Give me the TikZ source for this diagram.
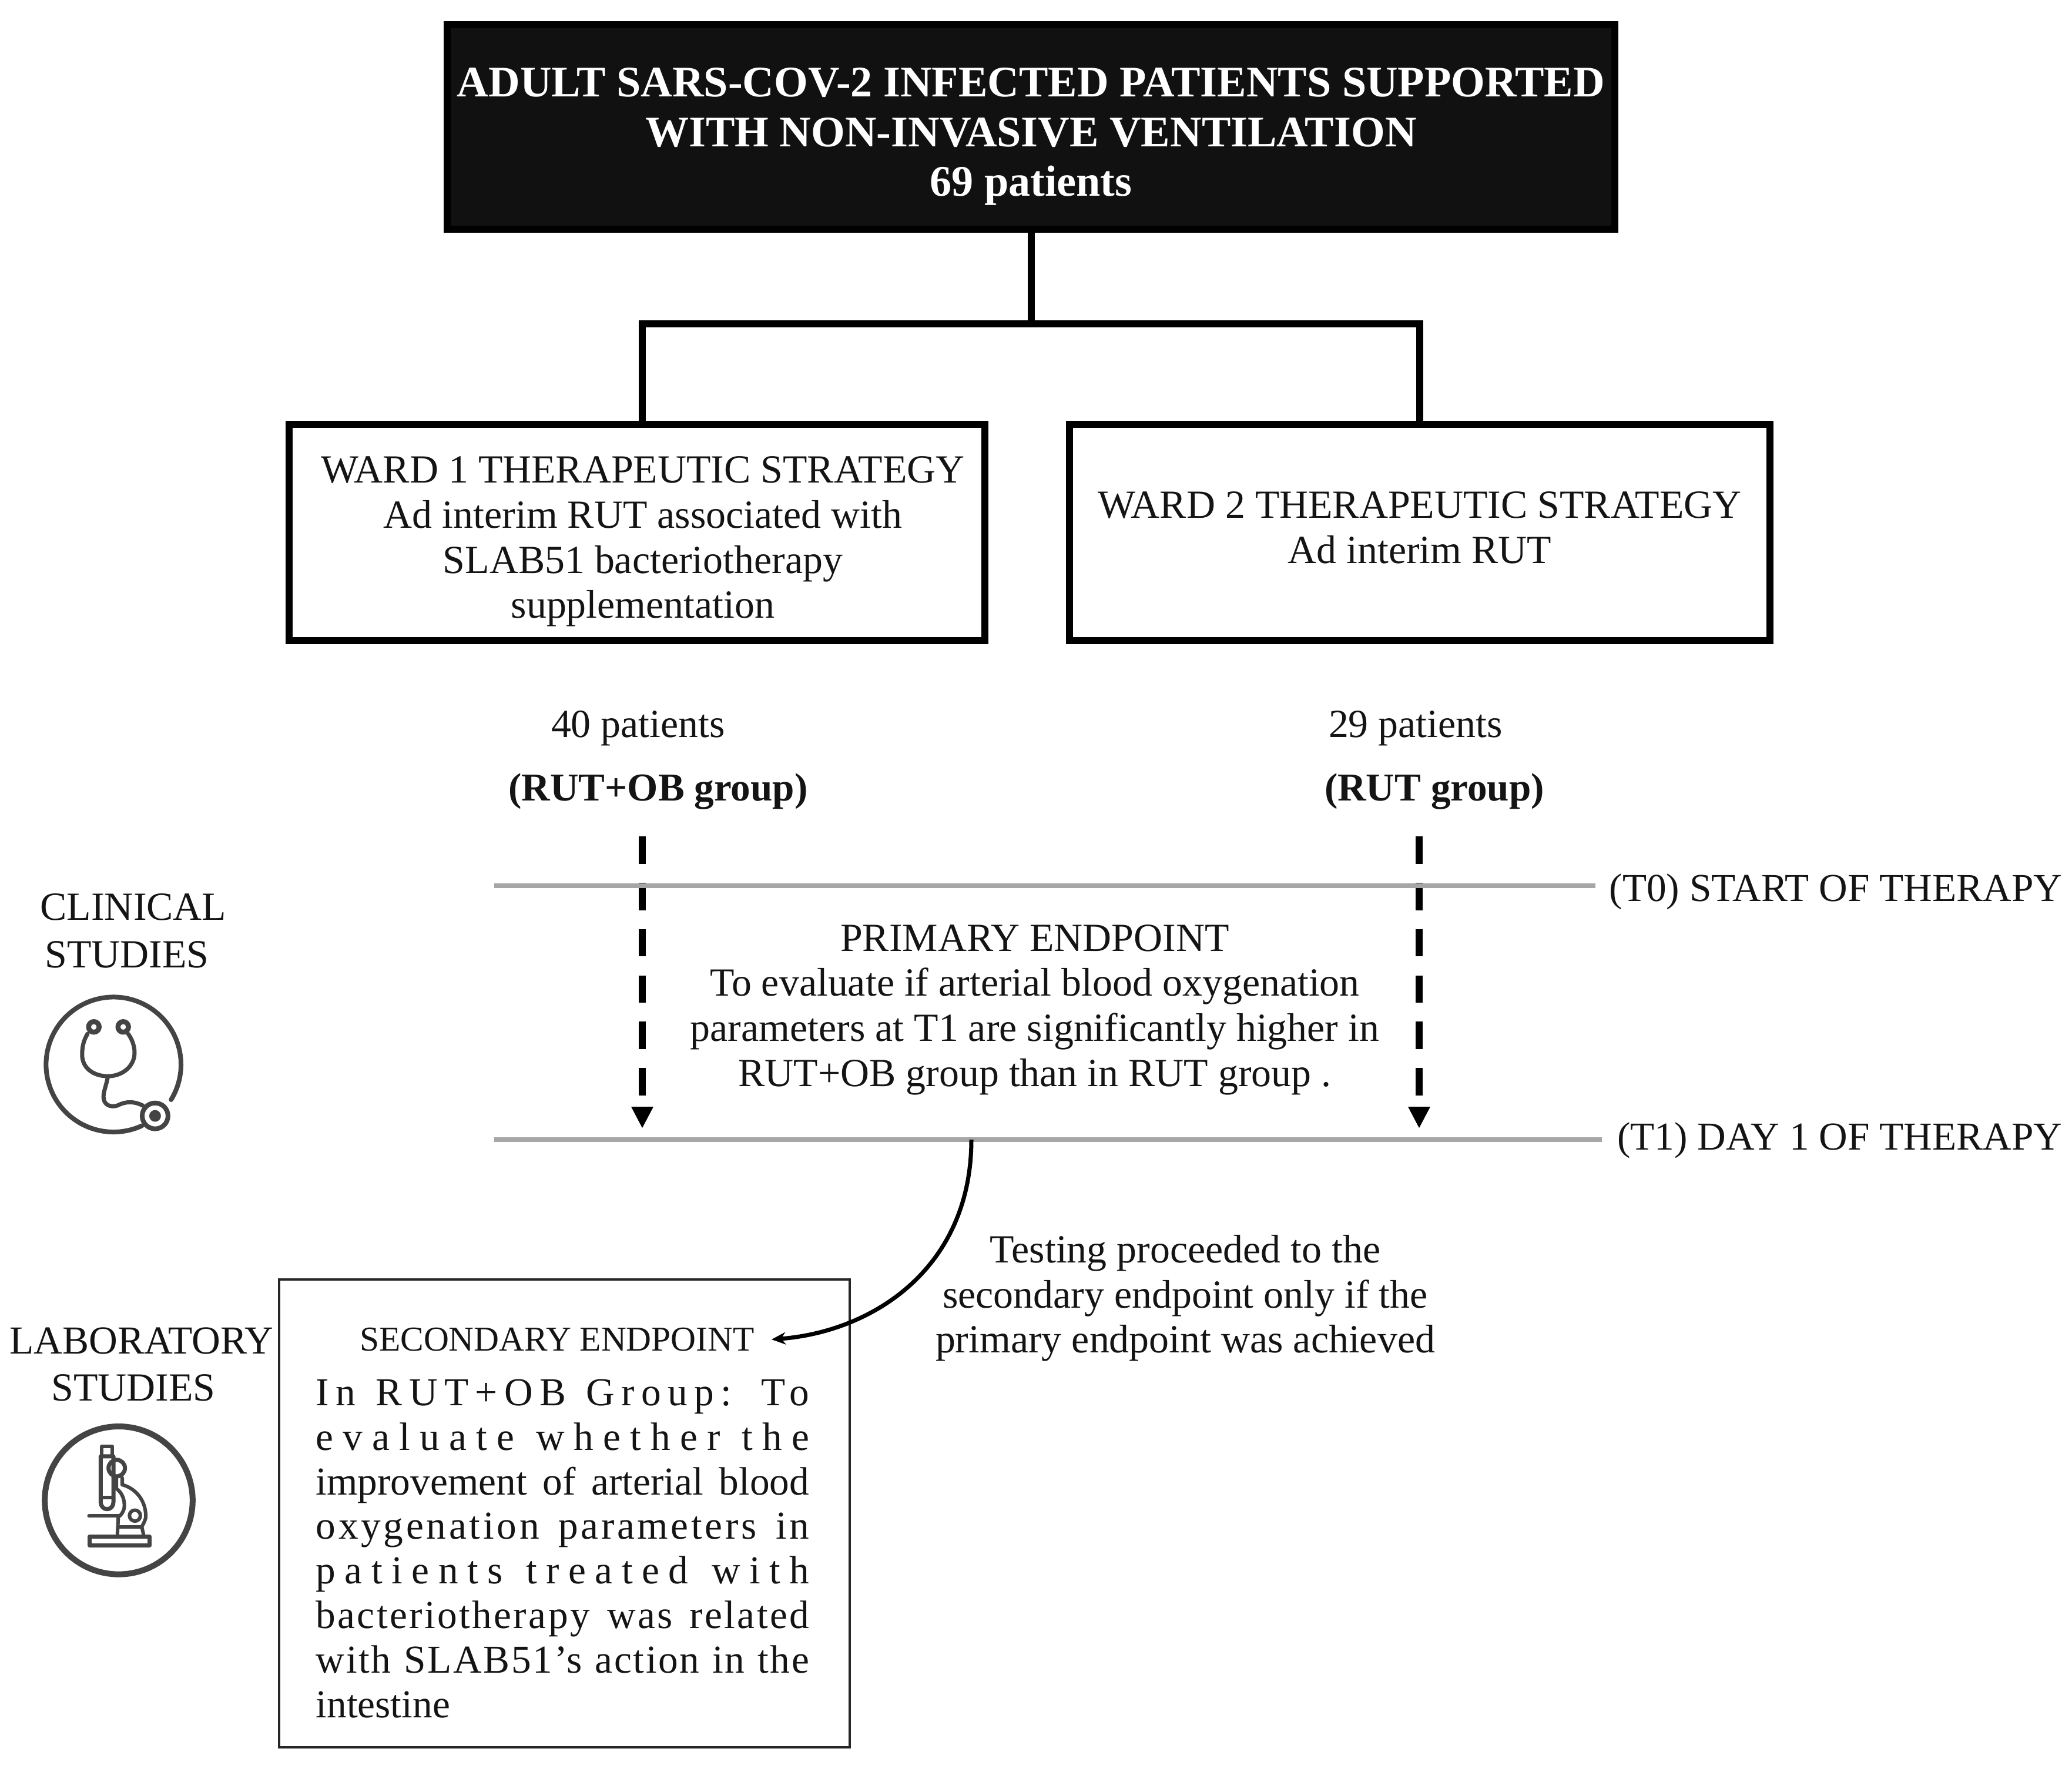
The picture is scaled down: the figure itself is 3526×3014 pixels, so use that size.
\documentclass[tikz,border=0pt]{standalone}
\usepackage{fontspec}
\setmainfont{Liberation Serif}
\usetikzlibrary{arrows.meta}
\newcommand{\fsz}[2]{\fontsize{#1}{#2}\selectfont}
\newcommand{\shifted}[2]{\raisebox{#1}[0pt][0pt]{\begin{tabular}{@{}c@{}}#2\end{tabular}}}
\newcommand{\lsp}[2]{\makebox[8.39cm][s]{\addfontfeature{LetterSpace=#1}#2}}
\definecolor{icon}{HTML}{444444}
\definecolor{rule}{HTML}{A6A6A6}
\definecolor{topfill}{HTML}{111111}
\tikzset{
  x=0.01cm,y=-0.01cm,
  txt/.style={font=\fsz{19.3}{21.8},inner sep=0pt,align=center,text=black!92},
  boldtxt/.style={txt,font=\bfseries\fsz{19.1}{21.8}},
  boxed/.style={draw=black,line width=0.12cm,inner sep=0pt,font=\fsz{19.3}{21.8},align=center,text=black!92},
  conn/.style={draw=black,line width=0.12cm},
  timeline/.style={draw=rule,line width=0.085cm},
  dasharrow/.style={draw=black,line width=0.12cm,dash pattern=on 0.467cm off 0.321cm,-{Triangle[length=0.37cm,width=0.35cm]}},
  iconline/.style={draw=icon,line cap=round,line join=round},
}
\begin{document}
\begin{tikzpicture}
\useasboundingbox (0,0) rectangle (3526,3014);
% top box
\node[draw=black,fill=topfill,line width=0.12cm,inner sep=0pt,minimum width=19.85cm,minimum height=3.48cm,text=white,font=\bfseries\fsz{21.1}{24},align=center] (top) at (1754.5,216)
 {\shifted{-0.344cm}{ADULT SARS-COV-2 INFECTED PATIENTS SUPPORTED\\WITH NON-INVASIVE VENTILATION\\69 patients}};
% ward boxes
\node[boxed,minimum width=11.84cm,minimum height=3.68cm] (w1) at (1084,906)
 {\hspace*{0.2cm}\shifted{-0.337cm}{WARD 1 THERAPEUTIC STRATEGY\\Ad interim RUT associated with\\SLAB51 bacteriotherapy\\supplementation}};
\node[boxed,minimum width=11.91cm,minimum height=3.68cm] (w2) at (2416,906)
 {\shifted{-0.17cm}{WARD 2 THERAPEUTIC STRATEGY\\Ad interim RUT}};
\coordinate (j) at (1754.5,551);
\coordinate (w1top) at ([xshift=0.09cm]w1.north);
\draw[conn] (top.south) -- (j);
\draw[conn,line cap=rect] (w1top) -- (w1top|-j) -- (w2.north|-j) -- (w2.north);
% group labels
\node[txt] (n40) at (1086,1239) {40 patients};
\node[boldtxt] (g1) at (1120,1347) {(RUT+OB group)};
\node[txt] (n29) at (2409,1239) {29 patients};
\node[boldtxt] (g2) at (2441,1347) {(RUT group)};
% dashed arrows
\coordinate (a1s) at (1093,1423); \coordinate (a1e) at (1093,1920);
\coordinate (a2s) at (2415,1423); \coordinate (a2e) at (2415,1920);
\draw[dasharrow] (a1s) -- (a1e);
\draw[dasharrow] (a2s) -- (a2e);
% timelines
\coordinate (t0a) at (841,1507); \coordinate (t0b) at (2715,1507);
\coordinate (t1a) at (841,1939); \coordinate (t1b) at (2726,1939);
\draw[timeline] (t0a) -- (t0b);
\draw[timeline] (t1a) -- (t1b);
\node[txt,anchor=east,font=\fsz{19.15}{21.8}] (t0l) at (3510,1517) {(T0) START OF THERAPY};
\node[txt,anchor=east,font=\fsz{19.15}{21.8}] (t1l) at (3510,1940) {(T1) DAY 1 OF THERAPY};
% primary
\node[txt] (prim) at (1761,1718) {PRIMARY ENDPOINT\\To evaluate if arterial blood oxygenation\\parameters at T1 are significantly higher in\\RUT+OB group than in RUT group .};
% side labels
\node[txt] (cl1) at (227,1543) {CLINICAL};
\node[txt] (cl2) at (216,1624) {STUDIES};
\node[txt,font=\fsz{19.2}{21.8}] (lb1) at (241,2281) {LABORATORY};
\node[txt] (lb2) at (227,2361) {STUDIES};
% testing note
\node[txt] (note) at (2017,2209) {Testing proceeded to the\\secondary endpoint only if the\\primary endpoint was achieved};
% secondary box
\node[draw=black!85,line width=0.04cm,minimum width=9.71cm,minimum height=7.96cm,inner sep=0pt] (sec) at (960.5,2575) {};
\node[txt,font=\fsz{16.9}{21.8}] (sect) at (948,2279) {SECONDARY ENDPOINT};
\node[txt,align=left,anchor=north west,font=\fsz{19.15}{21.57}] (secb) at (537,2346) {%
\lsp{17}{In RUT+OB Group: To}\\
\lsp{24}{evaluate whether the}\\
\lsp{0}{improvement of arterial blood}\\
\lsp{7}{oxygenation parameters in}\\
\lsp{23}{patients treated with}\\
\lsp{5}{bacteriotherapy was related}\\
\lsp{4}{with SLAB51’s action in the}\\
intestine};
% curved arrow
\coordinate (cs) at (1653,1939);
\coordinate (ce) at (1313,2279);
\draw[black,line width=0.07cm,-{Stealth[length=0.24cm,width=0.21cm]}] (cs) .. controls (1653,2158) and (1485,2266) .. (ce);
% stethoscope icon
\begin{scope}[shift={(0,1480)},x=0.003333cm,y=-0.003333cm]
 \draw[iconline,line width=0.08cm] (875,1175) arc[start angle=31.4,end angle=-294.8,radius=345];
 \draw[iconline,line width=0.085cm] (480,803) circle[radius=27];
 \draw[iconline,line width=0.085cm] (630,803) circle[radius=27];
 \draw[iconline,line width=0.07cm] (448,838) .. controls (425,875) and (420,910) .. (420,945) .. controls (420,1015) and (480,1055) .. (552,1055) .. controls (625,1055) and (688,1005) .. (688,935) .. controls (688,900) and (675,865) .. (655,838);
 \draw[iconline,line width=0.07cm] (552,1055) .. controls (545,1100) and (525,1140) .. (530,1170) .. controls (535,1205) and (570,1215) .. (600,1205) .. controls (650,1180) and (690,1185) .. (730,1205);
 \draw[iconline,line width=0.08cm] (793,1258) circle[radius=66];
 \fill[icon] (793,1258) circle[radius=30];
\end{scope}
% microscope icon
\begin{scope}[shift={(0,2220)},x=0.003333cm,y=-0.003333cm]
 \draw[iconline,line width=0.1cm] (607,1000) circle[radius=378];
 \draw[iconline,line width=0.06cm] (520,775) -- (520,725) -- (575,725) -- (575,775);
 \draw[iconline,line width=0.07cm] (515,775) -- (580,775) -- (580,1010) .. controls (580,1030) and (565,1045) .. (548,1045) .. controls (530,1045) and (515,1030) .. (515,1010) -- cycle;
 \draw[iconline,line width=0.06cm] (515,985) -- (580,985);
 \draw[iconline,line width=0.07cm] (597,835) circle[radius=42];
 \draw[iconline,line width=0.06cm] (595,880) -- (595,940) .. controls (625,960) and (640,1000) .. (635,1040) .. controls (630,1060) and (620,1075) .. (605,1085) -- (600,1180);
 \draw[iconline,line width=0.06cm] (625,885) -- (625,920) .. controls (700,940) and (750,1010) .. (745,1090) .. controls (740,1110) and (730,1125) .. (725,1135) -- (735,1180);
 \draw[iconline,line width=0.06cm] (612,1135) -- (725,1135);
 \draw[iconline,line width=0.06cm] (455,1080) -- (605,1080);
 \draw[iconline,line width=0.06cm] (690,1078) circle[radius=28];
 \draw[iconline,line width=0.07cm] (458,1185) rectangle (765,1230);
\end{scope}
\end{tikzpicture}
\end{document}
